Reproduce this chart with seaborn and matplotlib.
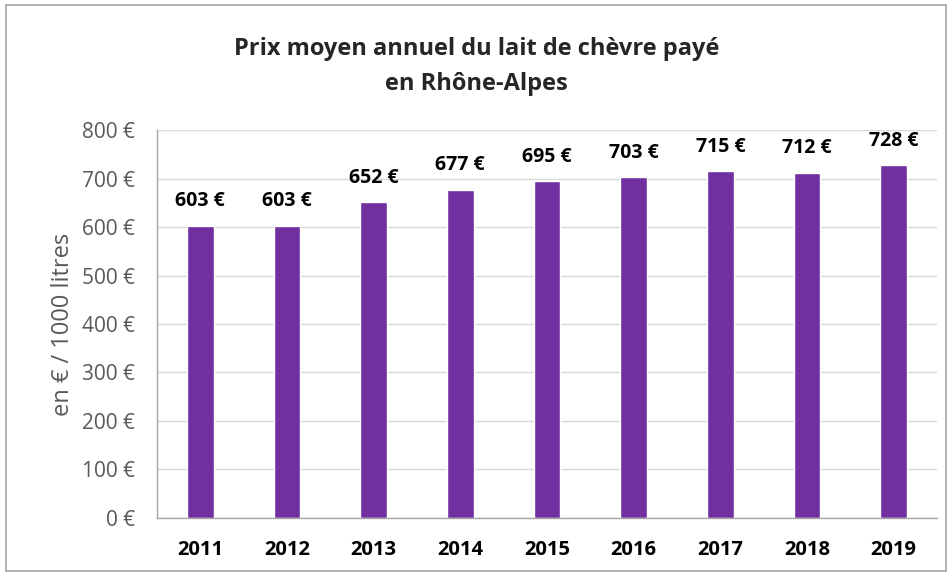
import matplotlib
matplotlib.use("Agg")
import matplotlib.pyplot as plt
import seaborn as sns
import pandas as pd
from matplotlib.patches import Rectangle

annees = ["2011", "2012", "2013", "2014", "2015", "2016", "2017", "2018", "2019"]
prix = [603, 603, 652, 677, 695, 703, 715, 712, 728]
yticks = [0, 100, 200, 300, 400, 500, 600, 700, 800]

df = pd.DataFrame({"annee": annees, "prix": prix})

sns.set_style("white")
plt.rcParams["font.family"] = ["Open Sans", "DejaVu Sans"]

fig = plt.figure(figsize=(9.53, 5.76), dpi=100)
ax = fig.add_axes([0.1647, 0.1007, 0.8185, 0.6736])

sns.barplot(data=df, x="annee", y="prix", color="#7030A0", saturation=1,
            width=0.31, ax=ax)

# étiquettes des valeurs
for i, v in enumerate(prix):
    ax.text(i, v + 50, f"{v} €", ha="center", va="center",
            fontsize=14, fontweight="bold", color="black")

ax.set_ylim(0, 800)
ax.set_yticks(yticks)
ax.set_yticklabels([f"{t} €" for t in yticks], fontsize=15, color="#595959")
ax.tick_params(axis="x", labelsize=14.5, colors="black", length=0, pad=16)
ax.tick_params(axis="y", length=0, pad=16)
for lbl in ax.get_xticklabels():
    lbl.set_fontweight("bold")
ax.yaxis.grid(True, color="#D9D9D9", linewidth=1)
ax.set_axisbelow(True)
ax.set_xlabel("")
ax.set_ylabel("en € / 1000 litres", fontsize=17, color="#595959")
ax.yaxis.set_label_coords(-0.105, 0.5)
for s in ["top", "right"]:
    ax.spines[s].set_visible(False)
for s in ["left", "bottom"]:
    ax.spines[s].set_color("#A6A6A6")
    ax.spines[s].set_linewidth(1)

fig.text(0.5, 0.884, "Prix moyen annuel du lait de chèvre payé\nen Rhône-Alpes",
         ha="center", va="center", fontsize=17, fontweight="bold",
         linespacing=1.6)

fig.patches.append(Rectangle((0.006, 0.008), 0.987, 0.984, transform=fig.transFigure,
                             fill=False, edgecolor="#A6A6A6", linewidth=1.2))

fig.savefig("out.png", dpi=100)
